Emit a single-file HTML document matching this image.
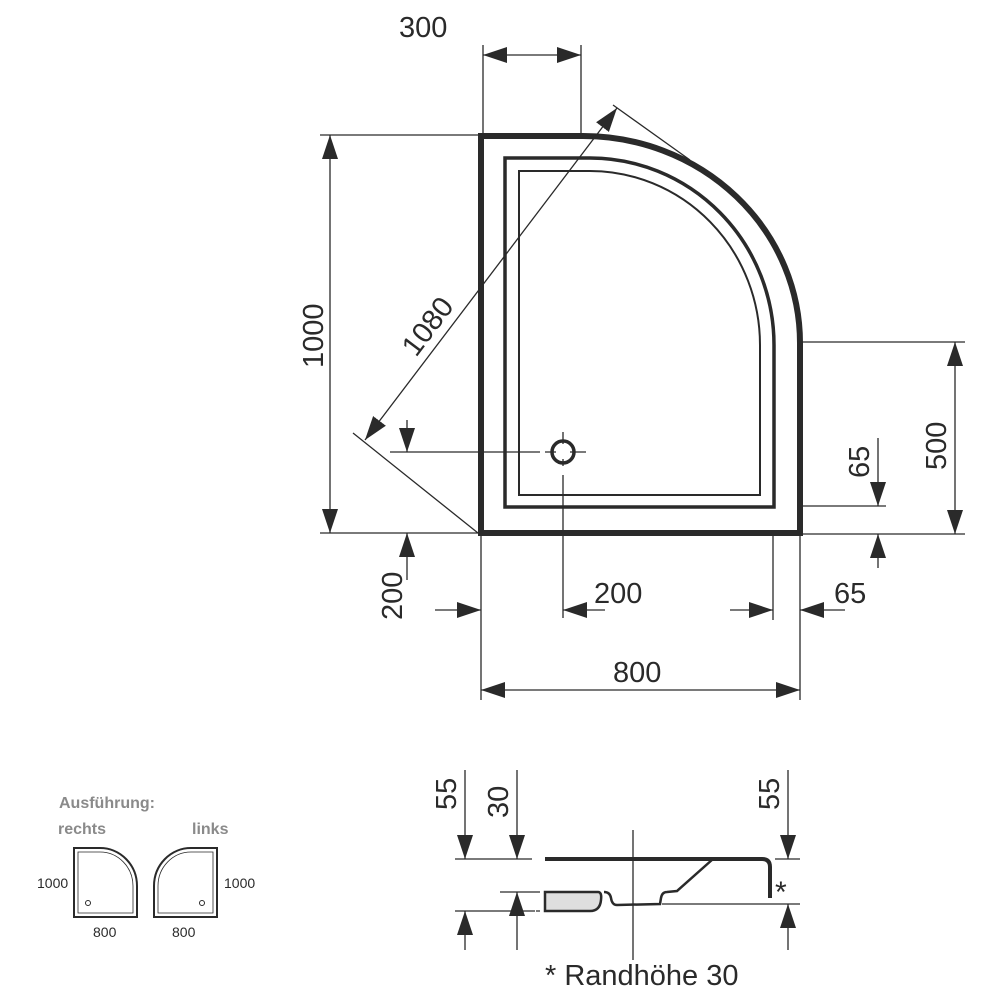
<!DOCTYPE html>
<html><head><meta charset="utf-8"><style>
html,body{margin:0;padding:0;background:#fff}
svg{display:block}
text{font-family:"Liberation Sans",sans-serif;fill:#2a2a2a}
</style></head><body>
<svg width="1000" height="1000" viewBox="0 0 1000 1000" xmlns="http://www.w3.org/2000/svg">
<defs>
<marker id="a" viewBox="0 0 24 16" refX="24" refY="8" markerWidth="24" markerHeight="16" markerUnits="userSpaceOnUse" orient="auto-start-reverse">
<path d="M0,0 L24,8 L0,16 Z" fill="#2a2a2a"/></marker>
</defs>
<g stroke="#2a2a2a" fill="none">
<path d="M481,533 L481,136 L583,136 A217,207 0 0 1 800,343 L800,533 Z" stroke-width="6"/>
<path d="M505,507 L505,158 L590,158 A184,187 0 0 1 774,345 L774,507 Z" stroke-width="3.5"/>
<path d="M519,495 L519,171 L590,171 A170,174 0 0 1 760,345 L760,495 Z" stroke-width="2"/>
<circle cx="563" cy="452" r="11" stroke-width="3.5"/>
<g stroke-width="1.3">
<path d="M390,452 L540,452 M545,452 L556,452 M570,452 L586,452 M563,432 L563,444 M563,459 L563,466 M563,475 L563,618" />
<path d="M483,45 L483,135 M581,45 L581,133"/>
<path d="M483,55 L581,55" marker-start="url(#a)" marker-end="url(#a)"/>
<path d="M320,135 L481,135 M320,533 L481,533"/>
<path d="M330,135 L330,533" marker-start="url(#a)" marker-end="url(#a)"/>
<path d="M353,433 L478,533 M613,105 L690,160"/>
<path d="M365,440 L617,108" marker-start="url(#a)" marker-end="url(#a)"/>
<path d="M407,420 L407,452" marker-end="url(#a)"/>
<path d="M407,580 L407,533" marker-end="url(#a)"/>
<path d="M481,533 L481,700 M773,533 L773,620 M800,533 L800,700"/>
<path d="M435,610 L481,610" marker-end="url(#a)"/>
<path d="M605,610 L563,610" marker-end="url(#a)"/>
<path d="M730,610 L773,610" marker-end="url(#a)"/>
<path d="M845,610 L800,610" marker-end="url(#a)"/>
<path d="M481,690 L800,690" marker-start="url(#a)" marker-end="url(#a)"/>
<path d="M800,506 L886,506 M800,534 L965,534 M800,342 L965,342"/>
<path d="M878,438 L878,506" marker-end="url(#a)"/>
<path d="M878,568 L878,534" marker-end="url(#a)"/>
<path d="M955,342 L955,534" marker-start="url(#a)" marker-end="url(#a)"/>
<path d="M455,859 L532,859 M500,892 L535,892 M535,892 L540,892 M455,911 L535,911 M536,911 L540,911 M775,859 L800,859 M662,904 L800,904 M633,830 L633,960"/>
<path d="M465,770 L465,859" marker-end="url(#a)"/>
<path d="M517,770 L517,859" marker-end="url(#a)"/>
<path d="M788,770 L788,859" marker-end="url(#a)"/>
<path d="M465,950 L465,911" marker-end="url(#a)"/>
<path d="M517,950 L517,892" marker-end="url(#a)"/>
<path d="M788,950 L788,904" marker-end="url(#a)"/>
</g>
<path d="M545,859 L762,859 Q770,859 770,867 L770,898" stroke-width="4"/>
<path d="M713,859 L677,891 L667,892 Q662,892 661,898 L660,904 L617,905 Q612,905 611,898 Q610,892 604,892" stroke-width="2.5"/>
<path d="M545,892 L598,892 Q602,892 601,900 Q600,911 590,911 L545,911 Z" fill="#dedede" stroke-width="2.5"/>
<path d="M74,917 L74,848 L100,848 A37,38 0 0 1 137,886 L137,917 Z" stroke-width="2"/>
<path d="M78,913 L78,852 L100,852 A33,34 0 0 1 133,886 L133,913 Z" stroke-width="0.8"/>
<circle cx="88" cy="903" r="2.5" stroke-width="1"/>
<path d="M217,917 L217,848 L191,848 A37,38 0 0 0 154,886 L154,917 Z" stroke-width="2"/>
<path d="M213,913 L213,852 L191,852 A33,34 0 0 0 158,886 L158,913 Z" stroke-width="0.8"/>
<circle cx="202" cy="903" r="2.5" stroke-width="1"/>
</g>
<g font-size="29">
<text x="399" y="37">300</text>
<text transform="translate(323,368) rotate(-90)">1000</text>
<text transform="translate(416,358) rotate(-53)">1080</text>
<text transform="translate(402,620) rotate(-90)">200</text>
<text x="594" y="603">200</text>
<text x="834" y="603">65</text>
<text x="613" y="682">800</text>
<text transform="translate(869,478) rotate(-90)">65</text>
<text transform="translate(946,470) rotate(-90)">500</text>
<text transform="translate(456,810) rotate(-90)">55</text>
<text transform="translate(508,818) rotate(-90)">30</text>
<text transform="translate(779,810) rotate(-90)">55</text>
<text x="775" y="902" font-size="30">*</text>
<text x="545" y="985">* Randhöhe 30</text>
</g>
<g font-size="16" font-weight="bold">
<text x="59" y="808" style="fill:#8a8a8a">Ausführung:</text>
<text x="58" y="834" style="fill:#8a8a8a">rechts</text>
<text x="192" y="834" style="fill:#8a8a8a">links</text>
</g>
<g font-size="14">
<text x="37" y="888">1000</text>
<text x="224" y="888">1000</text>
<text x="93" y="937">800</text>
<text x="172" y="937">800</text>
</g>
</svg>
</body></html>
